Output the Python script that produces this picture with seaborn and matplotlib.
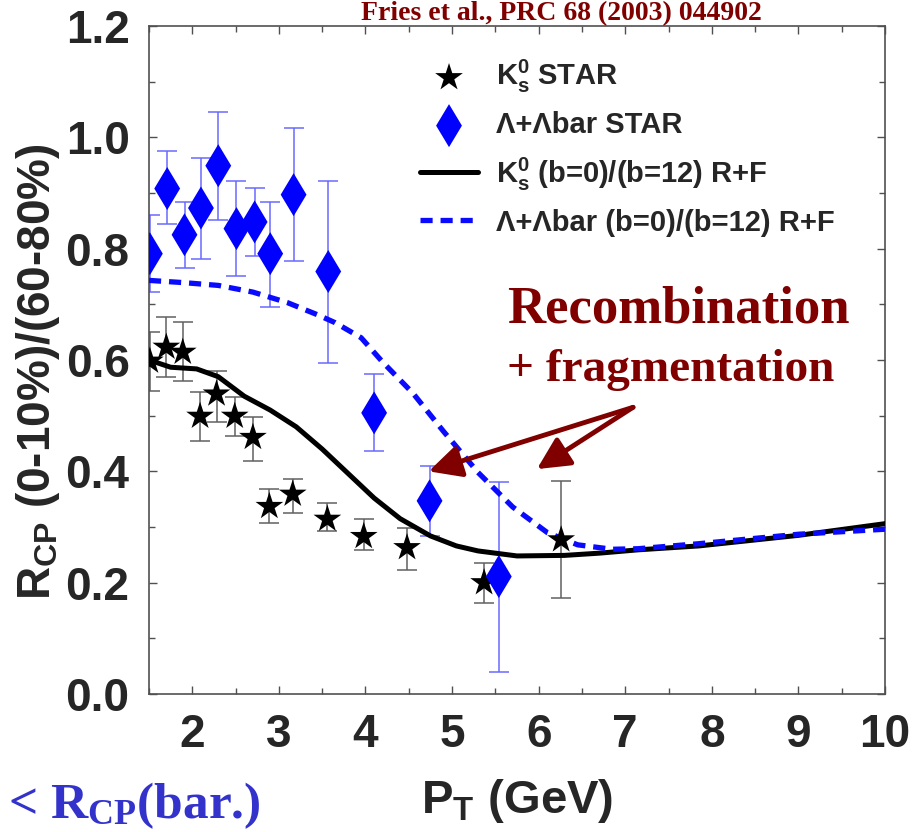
import numpy as np
import pandas as pd
import seaborn as sns
import matplotlib
matplotlib.use('Agg')
from matplotlib import pyplot as plt
from matplotlib import font_manager
from matplotlib.ticker import MultipleLocator

# K0s STAR points (pt, Rcp, error bar ends)
k_pt = [1.51, 1.70, 1.89, 2.09, 2.28, 2.49, 2.70, 2.89, 3.16, 3.56, 3.98, 4.48, 5.37, 6.26]
k_rcp = [0.598, 0.623, 0.614, 0.499, 0.539, 0.499, 0.461, 0.337, 0.359, 0.314, 0.283, 0.263, 0.200, 0.277]
k_hi = [0.650, 0.677, 0.668, 0.542, 0.580, 0.533, 0.497, 0.368, 0.386, 0.344, 0.314, 0.299, 0.236, 0.382]
k_lo = [0.544, 0.569, 0.562, 0.454, 0.488, 0.463, 0.418, 0.308, 0.326, 0.292, 0.259, 0.223, 0.164, 0.173]

# Lambda + Lambdabar STAR points
l_pt = [1.51, 1.71, 1.91, 2.10, 2.30, 2.51, 2.72, 2.90, 3.17, 3.57, 4.10, 4.74, 5.54]
l_rcp = [0.791, 0.908, 0.825, 0.873, 0.949, 0.836, 0.848, 0.791, 0.897, 0.759, 0.505, 0.347, 0.211]
l_hi = [0.860, 0.976, 0.884, 0.962, 1.046, 0.922, 0.909, 0.884, 1.017, 0.922, 0.574, 0.410, 0.381]
l_lo = [0.722, 0.844, 0.765, 0.782, 0.851, 0.750, 0.787, 0.696, 0.777, 0.594, 0.437, 0.283, 0.040]

# R+F model curves (b=0)/(b=12)
kc_pt = [1.5, 1.75, 2.05, 2.3, 2.6, 2.9, 3.2, 3.5, 3.8, 4.1, 4.4, 4.75, 5.05, 5.3, 5.75, 6.3, 6.7, 7.15, 7.85, 9.0, 10.0]
kc_rcp = [0.600, 0.587, 0.584, 0.570, 0.535, 0.510, 0.480, 0.440, 0.396, 0.352, 0.315, 0.284, 0.266, 0.257, 0.248, 0.249, 0.253, 0.259, 0.266, 0.285, 0.306]
lc_pt = [1.5, 1.9, 2.3, 2.7, 3.1, 3.45, 3.65, 3.95, 4.2, 4.55, 4.9, 5.3, 5.7, 6.1, 6.45, 6.85, 7.15, 7.85, 9.0, 10.0]
lc_rcp = [0.743, 0.739, 0.734, 0.722, 0.703, 0.681, 0.667, 0.640, 0.596, 0.540, 0.472, 0.398, 0.336, 0.290, 0.268, 0.260, 0.261, 0.270, 0.287, 0.296]

lab_k = 'K$^0_s$ STAR'
lab_l = '\u039b+\u039bbar STAR'
lab_kc = 'K$^0_s$ (b=0)/(b=12) R+F'
lab_lc = '\u039b+\u039bbar (b=0)/(b=12) R+F'

sns.set_theme(style='ticks')
names = {f.name for f in font_manager.fontManager.ttflist}
narrow = 'Liberation Sans Narrow' if 'Liberation Sans Narrow' in names else 'Liberation Sans'
plt.rcParams['font.family'] = ['Liberation Sans', 'DejaVu Sans']
plt.rcParams['font.weight'] = 'bold'
plt.rcParams['mathtext.fontset'] = 'custom'
plt.rcParams['mathtext.rm'] = 'Liberation Sans:bold'
plt.rcParams['mathtext.it'] = 'Liberation Sans:bold'
plt.rcParams['mathtext.bf'] = 'Liberation Sans:bold'
plt.rcParams['mathtext.sf'] = 'Liberation Serif:bold'
plt.rcParams['mathtext.default'] = 'rm'

fig = plt.figure(figsize=(9.24, 8.32), dpi=100)
ax = fig.add_axes([149 / 924, 1 - 694 / 832, 736 / 924, 668 / 832])

k = pd.DataFrame({'pt': k_pt, 'rcp': k_rcp, 'lo': k_lo, 'hi': k_hi})
l = pd.DataFrame({'pt': l_pt, 'rcp': l_rcp, 'lo': l_lo, 'hi': l_hi})

ax.errorbar(k['pt'], k['rcp'], yerr=[k['rcp'] - k['lo'], k['hi'] - k['rcp']], fmt='none',
            ecolor='#606060', elinewidth=1.1, capsize=7, capthick=1.1, zorder=2)
ax.errorbar(l['pt'], l['rcp'], yerr=[l['rcp'] - l['lo'], l['hi'] - l['rcp']], fmt='none',
            ecolor='#6a6aff', elinewidth=1.1, capsize=7, capthick=1.1, zorder=2)

sns.lineplot(x=kc_pt, y=kc_rcp, ax=ax, color='black', lw=3.6, label=lab_kc, zorder=3)
sns.lineplot(x=lc_pt, y=lc_rcp, ax=ax, color='#0a0aff', lw=3.8, linestyle=(0, (2.3, 1.5)),
             label=lab_lc, zorder=3)
sns.scatterplot(x=k_pt, y=k_rcp, ax=ax, marker='*', s=440, color='black', edgecolor='none',
                label=lab_k, zorder=4)
sns.scatterplot(x=l_pt, y=l_rcp, ax=ax, marker='d', s=480, color='#0000ff', edgecolor='none',
                label=lab_l, zorder=4)

ax.set_xlim(1.5, 10)
ax.set_ylim(0, 1.2)
ax.xaxis.set_minor_locator(MultipleLocator(0.5))
ax.yaxis.set_minor_locator(MultipleLocator(0.1))
ax.set_yticks([0.0, 0.2, 0.4, 0.6, 0.8, 1.0, 1.2])
ax.set_yticklabels(['0.0', '0.2', '0.4', '0.6', '0.8', '1.0', '1.2'])
ax.set_xticks(range(2, 11))
ax.tick_params(which='both', direction='in', top=True, right=True, color='#505050', width=1)
ax.tick_params(which='major', length=6, pad=14)
ax.tick_params(which='minor', length=4)
for t in ax.get_xticklabels() + ax.get_yticklabels():
    t.set_family(narrow)
    t.set_fontsize(33)
    t.set_fontweight('bold')
for s in ax.spines.values():
    s.set_color('#505050')
    s.set_linewidth(1.2)

ax.set_ylabel('R$_{CP}$ (0-10%)/(60-80%)', fontsize=33, fontweight='bold')
ax.yaxis.set_label_coords(-0.118, 0.482)
ax.set_xlabel('P$_T$ (GeV)', fontsize=34, fontweight='bold', family=narrow, labelpad=14)

handles, labels = ax.get_legend_handles_labels()
order = [labels.index(lab_k), labels.index(lab_l), labels.index(lab_kc), labels.index(lab_lc)]
ax.legend([handles[i] for i in order], [labels[i] for i in order], loc='upper left',
          bbox_to_anchor=(0.368, 0.952), frameon=False, fontsize=21, borderpad=0,
          borderaxespad=0, handlelength=2.0, handletextpad=0.6, labelspacing=0.55)

dark_red = '#800000'
ax.text(5.63, 0.668, 'Recombination', fontsize=38, family='Liberation Serif',
        fontweight='bold', color=dark_red, va='baseline')
ax.text(5.63, 0.562, '+ fragmentation', fontsize=34, family='Liberation Serif',
        fontweight='bold', color=dark_red, va='baseline')
arrow = dict(arrowstyle='-|>,head_length=0.7,head_width=0.35', color=dark_red, lw=3.5,
             mutation_scale=28, shrinkA=0, shrinkB=0)
ax.annotate('', xy=(4.73, 0.40), xytext=(7.09, 0.515), arrowprops=arrow)
ax.annotate('', xy=(5.98, 0.404), xytext=(7.09, 0.515), arrowprops=arrow)

fig.text(0.608, 1 - 20 / 832, 'Fries et al., PRC 68 (2003) 044902', ha='center', va='baseline',
         fontsize=20, family='Liberation Serif', fontweight='bold', color=dark_red)
fig.text(8 / 924, 1 - 818 / 832, '< $\\mathsf{R_{CP}}$(bar.)', ha='left', va='baseline',
         fontsize=37, family='Liberation Serif', fontweight='bold', color='#3333cc')

fig.savefig('out.png', dpi=100)
